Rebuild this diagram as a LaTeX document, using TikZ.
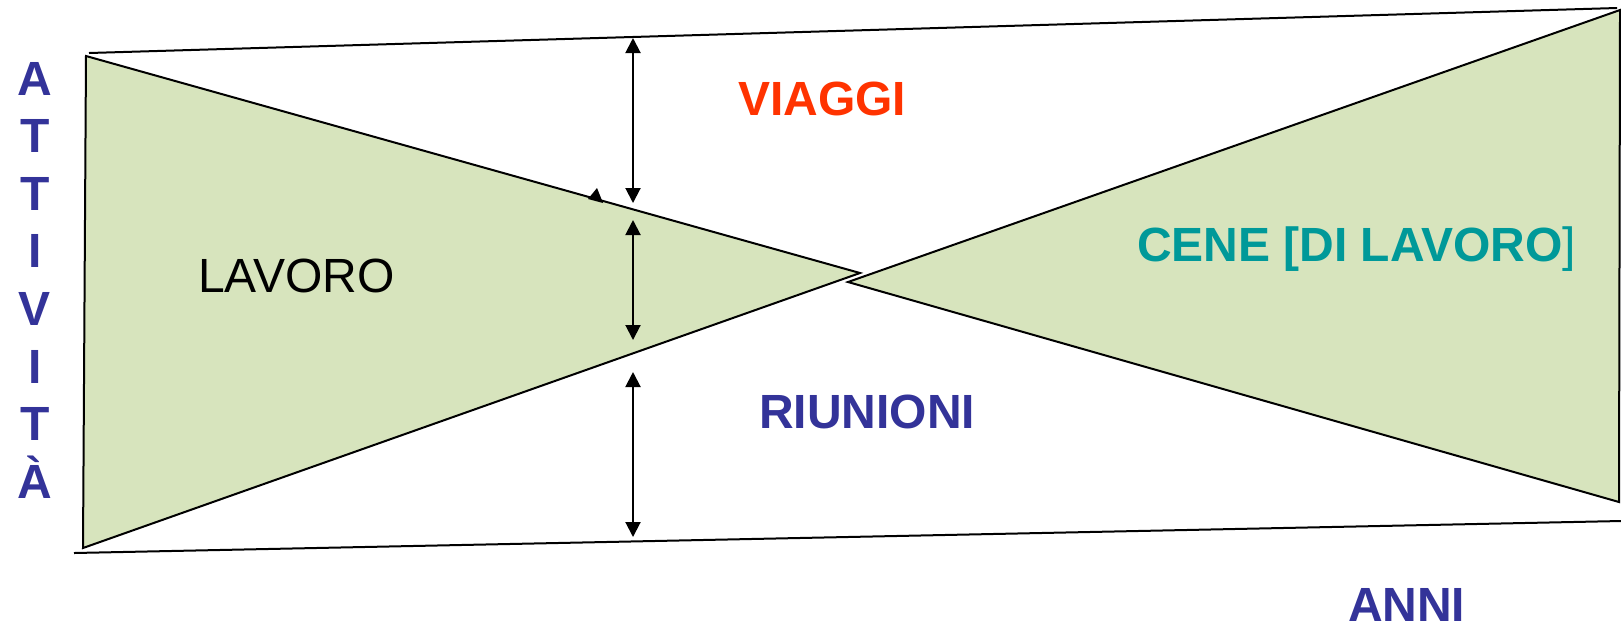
\documentclass[tikz,border=0pt]{standalone}
\usepackage{fontspec}
\setmainfont{Liberation Sans}
\usetikzlibrary{arrows.meta}
\definecolor{verde}{HTML}{D7E4BD}
\definecolor{rosso}{HTML}{FF3300}
\definecolor{blu}{HTML}{333399}
\definecolor{ottanio}{HTML}{009999}

\begin{document}
\begin{tikzpicture}[x=0.5pt, y=-0.5pt, line width=1pt,
    freccia/.style={{Triangle[width=7.5pt,length=7.5pt]}-{Triangle[width=7.5pt,length=7.5pt]}},
    etichetta/.style={inner sep=0pt, anchor=base west, font=\fontsize{24}{28}\selectfont\bfseries},
    lettera/.style={inner sep=0pt, anchor=base, text=blu, font=\fontsize{24}{28}\selectfont\bfseries}]

    \useasboundingbox (0,0) rectangle (1621,629);

    \coordinate (alto1) at (89,53);
    \coordinate (alto2) at (1617,8);
    \coordinate (basso1) at (74,553);
    \coordinate (basso2) at (1621,521);

    \coordinate (lav1) at (86,56);
    \coordinate (lav2) at (860,273);
    \coordinate (lav3) at (83,548);
    \coordinate (cen1) at (848,282);
    \coordinate (cen2) at (1620,10);
    \coordinate (cen3) at (1619,502);

    \coordinate (v1) at (633,38);
    \coordinate (v2) at (633,203);
    \coordinate (l1) at (633,220);
    \coordinate (l2) at (633,340);
    \coordinate (r1) at (633,372);
    \coordinate (r2) at (633,537);

    \filldraw [fill=verde] (lav1) -- (lav2) -- (lav3) -- cycle;
    \filldraw [fill=verde] (cen1) -- (cen2) -- (cen3) -- cycle;
    \draw (alto1) -- (alto2);
    \draw (basso1) -- (basso2);

    \draw [freccia] (v1) -- (v2);
    \draw [freccia] (l1) -- (l2);
    \draw [freccia] (r1) -- (r2);
    \fill (588,199) -- (603,203) -- (597,188) -- cycle;

    \node [etichetta, text=rosso] (viaggi) at (737,115) {VIAGGI};
    \node [etichetta, font=\fontsize{24}{28}\selectfont] (lavoro) at (197,292) {LAVORO};
    \node [etichetta, text=ottanio] (cene) at (1136,261) {CENE [DI LAVORO\textmd{]}};
    \node [etichetta, text=blu] (riunioni) at (758,428) {RIUNIONI};
    \node [etichetta, text=blu] (anni) at (1347,621) {ANNI};

    \foreach \l [count=\i] in {A,T,T,I,V,I,T,À}
        \node [lettera] (att\i) at (35,{95+57.6*(\i-1)}) {\l};

\end{tikzpicture}
\end{document}
